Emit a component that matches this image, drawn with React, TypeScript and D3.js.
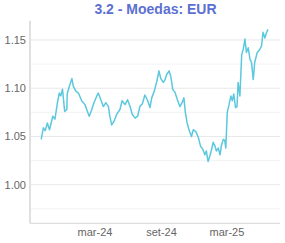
import React from 'react';
import { scaleUtc, scaleLinear, line, utcParse } from 'd3';

const W = 285;
const H = 243;

// leitura aproximada da série EUR
const dates = [
  '2023-10-04', '2023-10-10', '2023-10-15', '2023-10-21', '2023-10-27', '2023-11-05', '2023-11-11', '2023-11-18',
  '2023-11-23', '2023-11-27', '2023-12-02', '2023-12-08', '2023-12-14', '2023-12-15', '2023-12-21', '2023-12-28',
  '2024-01-01', '2024-01-08', '2024-01-15', '2024-01-24', '2024-02-02', '2024-02-09', '2024-02-14', '2024-02-21',
  '2024-02-27', '2024-03-06', '2024-03-10', '2024-03-18', '2024-03-24', '2024-03-31', '2024-04-07', '2024-04-11',
  '2024-04-16', '2024-04-23', '2024-04-30', '2024-05-09', '2024-05-15', '2024-05-23', '2024-05-30', '2024-06-06',
  '2024-06-12', '2024-06-20', '2024-06-27', '2024-07-03', '2024-07-10', '2024-07-17', '2024-07-25', '2024-07-31',
  '2024-08-05', '2024-08-12', '2024-08-19', '2024-08-25', '2024-08-30', '2024-09-06', '2024-09-11', '2024-09-15',
  '2024-09-22', '2024-09-27', '2024-10-02', '2024-10-08', '2024-10-15', '2024-10-22', '2024-10-28', '2024-11-02',
  '2024-11-06', '2024-11-11', '2024-11-17', '2024-11-23', '2024-11-28', '2024-12-05', '2024-12-12', '2024-12-18',
  '2024-12-24', '2024-12-30', '2025-01-03', '2025-01-08', '2025-01-13', '2025-01-18', '2025-01-22', '2025-01-27',
  '2025-01-31', '2025-02-05', '2025-02-10', '2025-02-14', '2025-02-19', '2025-02-23', '2025-02-26', '2025-03-02',
  '2025-03-07', '2025-03-12', '2025-03-16', '2025-03-20', '2025-03-25', '2025-03-29', '2025-04-01', '2025-04-06',
  '2025-04-11', '2025-04-15', '2025-04-20', '2025-04-24', '2025-04-29', '2025-05-04', '2025-05-08', '2025-05-13',
  '2025-05-17', '2025-05-24', '2025-05-29', '2025-06-05', '2025-06-09', '2025-06-14', '2025-06-19', '2025-06-23',
];

const eur = [
  1.047, 1.059, 1.056, 1.064, 1.057, 1.071, 1.068, 1.085,
  1.095, 1.092, 1.099, 1.076, 1.078, 1.094, 1.102, 1.110,
  1.102, 1.097, 1.095, 1.087, 1.083, 1.076, 1.071, 1.078,
  1.085, 1.092, 1.095, 1.087, 1.081, 1.085, 1.081, 1.071,
  1.062, 1.066, 1.073, 1.078, 1.087, 1.083, 1.088, 1.081,
  1.073, 1.069, 1.071, 1.081, 1.084, 1.093, 1.087, 1.080,
  1.090, 1.097, 1.107, 1.118, 1.110, 1.106, 1.109, 1.114,
  1.118, 1.112, 1.099, 1.096, 1.088, 1.081, 1.085, 1.090,
  1.075, 1.064, 1.056, 1.050, 1.057, 1.055, 1.049, 1.040,
  1.037, 1.031, 1.035, 1.024, 1.030, 1.037, 1.044, 1.040,
  1.035, 1.038, 1.031, 1.041, 1.047, 1.046, 1.038, 1.075,
  1.083, 1.092, 1.087, 1.094, 1.080, 1.081, 1.106, 1.092,
  1.135, 1.140, 1.151, 1.137, 1.142, 1.130, 1.127, 1.109,
  1.127, 1.137, 1.139, 1.144, 1.158, 1.152, 1.158, 1.161,
];

const xTickDates = ['2024-03-01', '2024-09-01', '2025-03-01'];
const xTickLabels = ['mar-24', 'set-24', 'mar-25'];
const yTicks = [1.0, 1.05, 1.1, 1.15];
const yMinorTicks = [0.975, 1.025, 1.075, 1.125];

const parse = utcParse('%Y-%m-%d');

const App: React.FC = () => {
  const left = 30;
  const right = 280;
  const top = 20.7;
  const bottom = 223.3;

  const x = scaleUtc()
    .domain([parse('2023-09-03')!, parse('2025-07-26')!])
    .range([left, right]);
  const y = scaleLinear().domain([0.96, 1.17]).range([bottom, top]);

  const data = dates.map((d, i) => ({ date: parse(d)!, value: eur[i] }));
  const path = line<typeof data[0]>()
    .x(d => x(d.date))
    .y(d => y(d.value))(data);

  return (
    <svg
      width={W}
      height={H}
      style={{ position: 'absolute', left: 0, top: 0, background: '#fff' }}
      fontFamily="'Liberation Sans', Arial, sans-serif"
    >
      <text x={155.5} y={14} textAnchor="middle" fontSize={14} fontWeight="bold" fill="#5b70d2">
        3.2 - Moedas: EUR
      </text>

      {/* grelha */}
      {yMinorTicks.map(t => (
        <line key={'m' + t} x1={left} x2={right} y1={y(t)} y2={y(t)} stroke="#f3f3f3" strokeWidth={1} />
      ))}
      {yTicks.map(t => (
        <line key={'g' + t} x1={left} x2={right} y1={y(t)} y2={y(t)} stroke="#e8e8e8" strokeWidth={1} />
      ))}

      {/* eixos */}
      <line x1={left} x2={left} y1={top} y2={bottom} stroke="#e0e0e0" strokeWidth={2} />
      <line x1={left} x2={right} y1={bottom} y2={bottom} stroke="#d6d6d6" strokeWidth={1} />

      {yTicks.map(t => (
        <text key={'l' + t} x={26} y={y(t) + 4} textAnchor="end" fontSize={11} fill="#666">
          {t.toFixed(2)}
        </text>
      ))}
      {xTickDates.map((d, i) => (
        <text key={d} x={x(parse(d)!)} y={236} textAnchor="middle" fontSize={11} fill="#666">
          {xTickLabels[i]}
        </text>
      ))}

      <path d={path ?? ''} fill="none" stroke="#5cc8de" strokeWidth={1.5} strokeLinejoin="round" />
    </svg>
  );
};

export default App;
